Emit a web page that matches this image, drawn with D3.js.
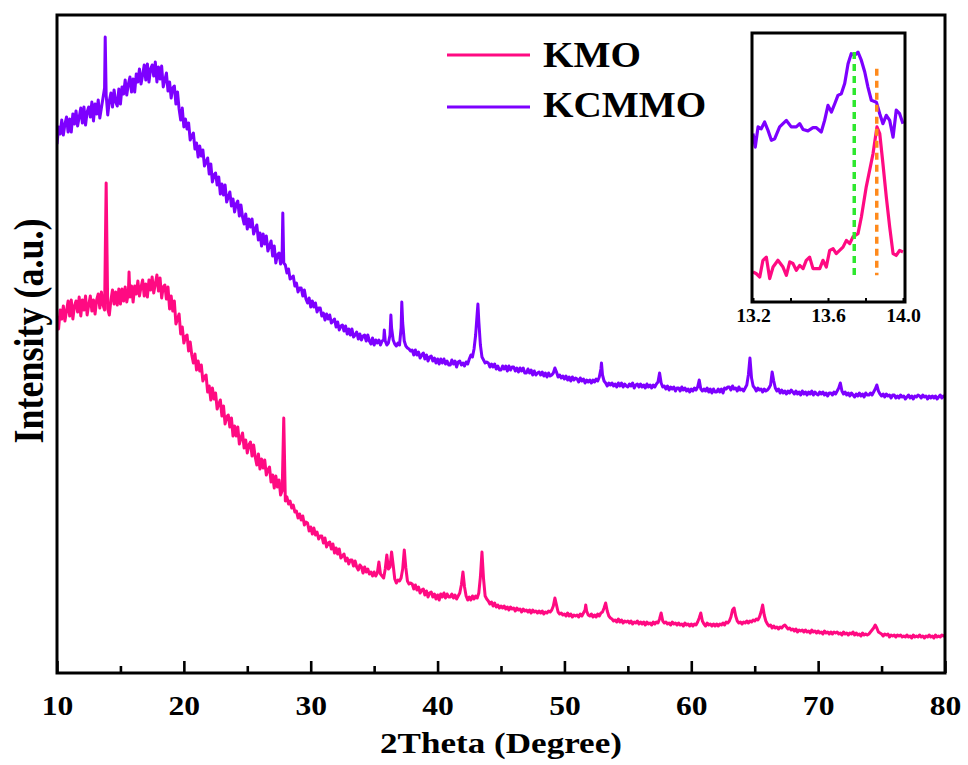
<!DOCTYPE html>
<html>
<head>
<meta charset="utf-8">
<script src="https://cdn.jsdelivr.net/npm/d3@7"></script>
<style>
  body { margin: 0; background: #fff; }
  svg { display: block; }
</style>
</head>
<body>
<svg id="chart" width="968" height="765"></svg>
<script>
// Diffractometer step-scan settings (degrees 2θ)
const scanStart = 10;
const scanStep = 0.125;

// KCMMO intensity (a.u.), eight steps per degree from 10° to 80°
const kcmmoScan = [
  529, 546, 539, 553, 538, 549, 556, 541,   // 10
  554, 541, 559, 549, 562, 547, 556, 565,   // 11
  550, 566, 548, 561, 566, 556, 571, 552,   // 12
  569, 559, 573, 555, 565, 575, 585, 578,   // 13
  558, 572, 580, 566, 583, 571, 567, 584,   // 14
  569, 586, 579, 593, 578, 589, 596, 581,   // 15
  594, 581, 599, 591, 604, 589, 598, 608,   // 16
  593, 609, 591, 604, 608, 597, 611, 591,   // 17
  606, 594, 607, 586, 593, 600, 582, 591,   // 18
  575, 585, 587, 569, 581, 564, 553, 565,   // 19
  546, 554, 544, 550, 533, 537, 540, 524,   // 20
  530, 516, 527, 517, 523, 507, 511, 515,   // 21
  499, 509, 491, 498, 500, 488, 496, 479,   // 22
  489, 478, 488, 471, 476, 481, 467, 474,   // 23
  461, 469, 472, 457, 468, 456, 449, 459,   // 24
  444, 454, 446, 454, 439, 444, 448, 433,   // 25
  440, 427, 439, 429, 437, 422, 427, 432,   // 26
  417, 427, 410, 418, 420, 409, 422, 410,   // 27
  408, 400, 404, 394, 395, 397, 387, 390,   // 28
  381, 385, 385, 377, 383, 374, 370, 375,   // 29
  366, 372, 366, 370, 361, 365, 365, 357,   // 30
  360, 353, 359, 354, 358, 350, 352, 354,   // 31
  346, 351, 343, 347, 348, 342, 347, 339,   // 32
  344, 338, 344, 336, 338, 341, 334, 339,   // 33
  333, 337, 338, 332, 338, 332, 329, 335,   // 34
  328, 333, 330, 333, 328, 332, 333, 332,   // 35
  328, 330, 338, 345, 333, 329, 327, 330,   // 36
  328, 345, 350, 332, 327, 325, 324, 322,   // 37
  323, 318, 323, 318, 321, 315, 318, 320,   // 38
  314, 318, 312, 316, 317, 312, 315, 310,   // 39
  314, 309, 314, 310, 314, 309, 312, 308,   // 40
  308, 313, 309, 312, 306, 311, 312, 308,   // 41
  310, 307, 311, 309, 314, 318, 316, 324,   // 42
  338, 360, 352, 328, 316, 313, 310, 311,   // 43
  310, 306, 309, 306, 309, 304, 307, 303,   // 44
  303, 307, 304, 307, 302, 307, 303, 306,   // 45
  306, 302, 305, 301, 305, 302, 305, 300,   // 46
  300, 304, 300, 303, 298, 302, 298, 300,   // 47
  301, 298, 301, 297, 300, 296, 300, 297,   // 48
  298, 300, 305, 301, 296, 298, 295, 297,   // 49
  294, 297, 293, 296, 292, 296, 293, 295,   // 50
  294, 291, 295, 292, 294, 290, 293, 291,   // 51
  293, 290, 293, 291, 294, 292, 296, 304,   // 52
  298, 292, 290, 287, 290, 288, 290, 287,   // 53
  289, 286, 290, 287, 290, 286, 289, 287,   // 54
  286, 289, 287, 290, 285, 288, 289, 286,   // 55
  289, 286, 288, 285, 289, 286, 288, 285,   // 56
  288, 286, 289, 291, 300, 290, 286, 287,   // 57
  284, 287, 283, 286, 284, 286, 282, 285,   // 58
  285, 282, 286, 283, 285, 282, 284, 281,   // 59
  284, 282, 285, 283, 286, 293, 284, 282,   // 60
  284, 282, 285, 281, 284, 280, 284, 281,   // 61
  281, 284, 281, 284, 280, 285, 284, 286,   // 62
  286, 283, 287, 284, 285, 282, 286, 283,   // 63
  284, 282, 285, 288, 298, 315, 295, 287,   // 64
  285, 282, 285, 283, 284, 281, 284, 282,   // 65
  283, 285, 288, 301, 292, 285, 282, 284,   // 66
  280, 283, 280, 282, 279, 282, 280, 283,   // 67
  281, 279, 282, 279, 281, 278, 282, 279,   // 68
  281, 278, 281, 279, 282, 278, 281, 279,   // 69
  278, 281, 279, 281, 278, 280, 277, 280,   // 70
  280, 278, 281, 279, 282, 285, 290, 282,   // 71
  279, 281, 278, 280, 277, 280, 278, 276,   // 72
  279, 277, 280, 277, 279, 276, 280, 278,   // 73
  278, 280, 278, 281, 284, 288, 282, 279,   // 74
  277, 279, 276, 279, 277, 278, 275, 278,   // 75
  278, 275, 277, 275, 278, 276, 277, 274,   // 76
  276, 278, 275, 277, 274, 277, 276, 278,   // 77
  277, 275, 278, 276, 277, 274, 277, 275,   // 78
  277, 275, 277, 274, 276, 278, 275, 277,   // 79
  276                                       // 80
];
// KCMMO reflections recorded between scan steps [2θ, intensity]
const kcmmoPeaks = [
  [13.80, 636], [27.80, 460], [35.80, 343], [36.32, 358], [37.18, 371], [43.18, 369], [52.92, 310]
];

// KMO intensity (a.u.), eight steps per degree from 10° to 80°
const kmoScan = [
  357, 344, 363, 354, 367, 352, 362, 372,   // 10
  357, 373, 354, 367, 372, 361, 376, 357,   // 11
  373, 363, 377, 358, 368, 377, 362, 373,   // 12
  359, 373, 379, 365, 381, 368, 363, 490,   // 13
  364, 358, 373, 383, 369, 381, 368, 384,   // 14
  369, 384, 372, 386, 371, 380, 376, 387,   // 15
  371, 387, 379, 392, 377, 386, 393, 377,   // 16
  389, 376, 393, 383, 396, 380, 389, 398,   // 17
  382, 395, 375, 386, 388, 374, 386, 364,   // 18
  377, 362, 372, 349, 354, 359, 339, 346,   // 19
  330, 336, 338, 322, 331, 318, 310, 319,   // 20
  303, 312, 302, 308, 292, 296, 298, 281,   // 21
  287, 273, 285, 274, 280, 264, 269, 273,   // 22
  257, 267, 249, 256, 258, 246, 255, 237,   // 23
  247, 237, 246, 229, 235, 240, 225, 233,   // 24
  220, 228, 231, 217, 228, 216, 208, 219,   // 25
  204, 214, 205, 213, 198, 203, 206, 191,   // 26
  198, 185, 197, 186, 193, 178, 182, 255,   // 27
  172, 176, 169, 172, 165, 168, 161, 162,   // 28
  155, 159, 153, 157, 148, 151, 150, 142,   // 29
  146, 139, 145, 138, 141, 134, 137, 137,   // 30
  130, 135, 126, 130, 131, 124, 129, 120,   // 31
  125, 119, 124, 115, 117, 119, 112, 115,   // 32
  109, 113, 113, 107, 112, 106, 103, 108,   // 33
  106, 100, 106, 101, 104,  99, 101,  97,   // 34
  101,  97, 100, 111,  99,  97,  95, 104,   // 35
  118, 104, 106, 121, 108,  94,  90,  93,   // 36
   92,  95, 104, 123, 105,  92,  89,  90,   // 37
   89,  84,  88,  83,  86,  80,  83,  84,   // 38
   78,  82,  76,  80,  81,  76,  79,  74,   // 39
   78,  73,  79,  76,  80,  75,  79,  76,   // 40
   76,  79,  75,  78,  74,  77,  80,  88,   // 41
  101,  86,  77,  73,  76,  73,  77,  74,   // 42
   77,  75,  80,  96, 121,  94,  77,  74,   // 43
   72,  69,  71,  67,  70,  66,  68,  65,   // 44
   67,  65,  67,  64,  66,  63,  66,  64,   // 45
   65,  62,  65,  63,  64,  61,  64,  62,   // 46
   63,  61,  63,  60,  63,  61,  62,  60,   // 47
   62,  60,  62,  59,  61,  60,  62,  61,   // 48
   63,  67,  75,  68,  61,  59,  60,  58,   // 49
   59,  57,  60,  57,  59,  56,  58,  57,   // 50
   58,  56,  59,  57,  60,  63,  62,  58,   // 51
   57,  59,  56,  58,  56,  59,  57,  60,   // 52
   61,  65,  70,  62,  57,  55,  54,  52,   // 53
   53,  51,  54,  51,  53,  50,  52,  51,   // 54
   52,  50,  52,  49,  51,  50,  52,  49,   // 55
   51,  49,  51,  48,  51,  49,  50,  48,   // 56
   51,  49,  51,  50,  54,  60,  52,  50,   // 57
   51,  49,  50,  48,  51,  49,  50,  48,   // 58
   50,  48,  49,  47,  50,  48,  49,  47,   // 59
   49,  47,  49,  48,  51,  55,  60,  52,   // 60
   49,  47,  50,  48,  49,  47,  49,  47,   // 61
   49,  47,  49,  48,  50,  48,  51,  50,   // 62
   52,  56,  63,  65,  57,  52,  50,  51,   // 63
   49,  51,  50,  52,  50,  52,  51,  53,   // 64
   52,  54,  53,  56,  61,  68,  58,  52,   // 65
   49,  47,  48,  45,  47,  45,  46,  44,   // 66
   46,  45,  47,  48,  46,  44,  45,  43,   // 67
   44,  42,  44,  41,  43,  42,  43,  41,   // 68
   43,  41,  42,  40,  43,  41,  42,  40,   // 69
   42,  40,  41,  39,  42,  40,  41,  39,   // 70
   41,  39,  41,  40,  41,  39,  40,  38,   // 71
   41,  39,  40,  38,  40,  39,  41,  38,   // 72
   40,  38,  39,  37,  40,  38,  39,  38,   // 73
   39,  41,  43,  45,  48,  45,  41,  40,   // 74
   39,  37,  39,  38,  39,  36,  38,  37,   // 75
   38,  36,  38,  37,  38,  36,  37,  36,   // 76
   38,  36,  37,  35,  38,  36,  37,  36,   // 77
   38,  36,  37,  35,  37,  36,  38,  36,   // 78
   37,  35,  38,  36,  37,  36,  38,  37,   // 79
   38                                       // 80
];
// KMO reflections recorded between scan steps [2θ, intensity]
const kmoPeaks = [[15.68, 401], [51.68, 68]];

// Fine scan around the first reflection, 13.2°–14.0° [2θ, intensity]
const insetKcmmo = [
  [13.200, 62.6], [13.212, 57.6], [13.227, 65.1], [13.244, 64.4], [13.262, 66.9], [13.280, 63.8],
  [13.298, 60.1], [13.316, 60.7], [13.342, 65.1], [13.378, 67.5], [13.404, 65.1], [13.431, 65.1],
  [13.449, 66.3], [13.467, 64.1], [13.493, 63.6], [13.520, 64.8], [13.538, 64.8], [13.564, 63.2],
  [13.582, 67.5], [13.600, 73.1], [13.618, 70.6], [13.636, 73.7], [13.653, 76.8], [13.671, 77.4],
  [13.689, 81.2], [13.707, 88.6], [13.724, 92.3], [13.742, 91.7], [13.760, 92.9], [13.778, 89.8],
  [13.796, 85.5], [13.813, 79.9], [13.831, 75.0], [13.858, 74.3], [13.876, 70.0], [13.893, 66.3],
  [13.911, 69.4], [13.929, 67.5], [13.947, 61.3], [13.964, 71.3], [13.982, 70.0], [14.000, 66.3]
];
const insetKmo = [
  [13.200, 11.2], [13.218, 10.5], [13.236, 9.3], [13.253, 15.5], [13.271, 16.7], [13.289, 8.7],
  [13.307, 13.0], [13.333, 15.5], [13.360, 13.0], [13.378, 9.9], [13.396, 14.9], [13.413, 14.3],
  [13.431, 11.8], [13.449, 13.6], [13.467, 12.4], [13.484, 15.5], [13.502, 16.7], [13.520, 12.4],
  [13.556, 12.4], [13.573, 15.5], [13.591, 13.0], [13.609, 19.2], [13.627, 19.8], [13.644, 18.0],
  [13.662, 19.2], [13.680, 20.4], [13.698, 22.9], [13.716, 21.7], [13.733, 24.2], [13.760, 25.4],
  [13.778, 31.6], [13.804, 42.8], [13.840, 55.1], [13.861, 65.1], [13.876, 62.6], [13.893, 51.4],
  [13.911, 39.0], [13.929, 27.9], [13.947, 18.0], [13.964, 17.3], [13.982, 19.2], [14.000, 18.6]
];
// Peak-position guides in the fine scan: 2θ and vertical extent
const guidePositions = [13.74, 13.86];
const guideTops = [92.9, 86.7];
const guideBottom = 9.9;

// Axis ticks
const xTicks = [10, 20, 30, 40, 50, 60, 70, 80];
const xMinorTicks = [15, 25, 35, 45, 55, 65, 75];
const insetTicks = [13.2, 13.4, 13.6, 13.8, 14.0];
const insetTickLabels = ["13.2", "", "13.6", "", "14.0"];

const seriesNames = ["KMO", "KCMMO"];

// ---- styling ----
const colors = { KMO: "#ff0a82", KCMMO: "#7d00ff" };
const guideColors = ["#2ee82e", "#ff8a1c"];
const serif = "'Liberation Serif', 'Times New Roman', serif";
const stretch = 1.17;   // wide lettering

const frame = { left: 57, right: 945, top: 15, bottom: 673 };
const insetBox = { left: 752, right: 905, top: 33, bottom: 302 };

const svg = d3.select("#chart");

const x = d3.scaleLinear().domain([10, 80]).range([frame.left, frame.right]);
const y = d3.scaleLinear().domain([0, 658]).range([frame.bottom, frame.top]);

// combine step data with the reflections recorded between steps
function buildSeries(scan, peaks) {
  return scan.map((v, i) => [scanStart + i * scanStep, v])
    .concat(peaks)
    .sort((a, b) => a[0] - b[0]);
}
const kmoData = buildSeries(kmoScan, kmoPeaks);
const kcmmoData = buildSeries(kcmmoScan, kcmmoPeaks);

const defs = svg.append("defs");
defs.append("clipPath").attr("id", "plotClip").append("rect")
  .attr("x", frame.left).attr("y", frame.top)
  .attr("width", frame.right - frame.left).attr("height", frame.bottom - frame.top);
defs.append("clipPath").attr("id", "insetClip").append("rect")
  .attr("x", insetBox.left).attr("y", insetBox.top)
  .attr("width", insetBox.right - insetBox.left).attr("height", insetBox.bottom - insetBox.top);

// ---- main patterns ----
const line = d3.line().x(d => x(d[0])).y(d => y(d[1]));
const plot = svg.append("g").attr("clip-path", "url(#plotClip)");
[["KMO", kmoData], ["KCMMO", kcmmoData]].forEach(([name, data]) => {
  plot.append("path")
    .datum(data)
    .attr("d", line)
    .attr("fill", "none")
    .attr("stroke", colors[name])
    .attr("stroke-width", 3)
    .attr("stroke-linejoin", "round");
});

// ---- bottom axis ----
const axisG = svg.append("g").attr("transform", `translate(0,${frame.bottom})`);
axisG.call(d3.axisBottom(x).tickValues(xMinorTicks).tickSize(-7).tickSizeOuter(0).tickFormat(""))
  .call(g => g.select(".domain").remove());
const majorG = svg.append("g").attr("transform", `translate(0,${frame.bottom})`);
majorG.call(d3.axisBottom(x).tickValues(xTicks).tickSize(-12).tickSizeOuter(0).tickFormat(d3.format("d")))
  .call(g => g.select(".domain").remove());
svg.selectAll(".tick line").attr("stroke", "#000").attr("stroke-width", 2.6);
majorG.selectAll(".tick text")
  .attr("y", 42).attr("dy", null)
  .attr("transform", `scale(${stretch},1)`)
  .attr("fill", "#000")
  .style("font-family", serif).style("font-weight", "bold").style("font-size", "27px");

// ---- frame ----
svg.append("rect")
  .attr("x", frame.left).attr("y", frame.top)
  .attr("width", frame.right - frame.left).attr("height", frame.bottom - frame.top)
  .attr("fill", "none").attr("stroke", "#000").attr("stroke-width", 3);

// ---- axis titles ----
svg.append("text")
  .attr("transform", `translate(501,753) scale(${stretch},1)`)
  .attr("text-anchor", "middle")
  .style("font-family", serif).style("font-weight", "bold").style("font-size", "30px")
  .text("2Theta (Degree)");
svg.append("text")
  .attr("transform", `translate(43,331) scale(${stretch},1) rotate(-90)`)
  .attr("text-anchor", "middle")
  .style("font-family", serif).style("font-weight", "bold").style("font-size", "36px")
  .text("Intensity (a.u.)");

// ---- legend ----
const legend = svg.append("g");
const legendRows = [55, 107];
const legendBaselines = [67, 117];
seriesNames.forEach((name, i) => {
  legend.append("line")
    .attr("x1", 447).attr("x2", 530)
    .attr("y1", legendRows[i]).attr("y2", legendRows[i])
    .attr("stroke", colors[name]).attr("stroke-width", 3);
  legend.append("text")
    .attr("transform", `translate(543,${legendBaselines[i]}) scale(1.12,1)`)
    .style("font-family", serif).style("font-weight", "bold").style("font-size", "35px")
    .text(name);
});

// ---- inset: fine scan of the first reflection ----
const xi = d3.scaleLinear().domain([13.2, 14.0]).range([insetBox.left + 1, insetBox.right - 2]);
const yi = d3.scaleLinear().domain([0, 100]).range([insetBox.bottom, insetBox.top]);
const insetLine = d3.line().x(d => xi(d[0])).y(d => yi(d[1]));
const inset = svg.append("g");
inset.append("rect")
  .attr("x", insetBox.left).attr("y", insetBox.top)
  .attr("width", insetBox.right - insetBox.left).attr("height", insetBox.bottom - insetBox.top)
  .attr("fill", "#fff");
const insetPlot = inset.append("g").attr("clip-path", "url(#insetClip)");
[["KMO", insetKmo], ["KCMMO", insetKcmmo]].forEach(([name, data]) => {
  insetPlot.append("path")
    .datum(data)
    .attr("d", insetLine)
    .attr("fill", "none")
    .attr("stroke", colors[name])
    .attr("stroke-width", 3.2)
    .attr("stroke-linejoin", "round");
});
guidePositions.forEach((pos, i) => {
  insetPlot.append("line")
    .attr("x1", xi(pos)).attr("x2", xi(pos))
    .attr("y1", yi(guideTops[i])).attr("y2", yi(guideBottom))
    .attr("stroke", guideColors[i]).attr("stroke-width", 3.5)
    .attr("stroke-dasharray", "7,5");
});
const insetAxis = inset.append("g").attr("transform", `translate(0,${insetBox.bottom})`);
insetAxis.call(d3.axisBottom(xi).tickValues(insetTicks).tickSize(-4).tickSizeOuter(0)
    .tickFormat((d, i) => insetTickLabels[i]))
  .call(g => g.select(".domain").remove());
insetAxis.selectAll(".tick line").attr("stroke", "#000").attr("stroke-width", 2);
insetAxis.selectAll(".tick text")
  .attr("y", 20).attr("dy", null)
  .attr("transform", "scale(1.1,1)")
  .attr("fill", "#000")
  .style("font-family", serif).style("font-weight", "bold").style("font-size", "18px");
inset.append("rect")
  .attr("x", insetBox.left).attr("y", insetBox.top)
  .attr("width", insetBox.right - insetBox.left).attr("height", insetBox.bottom - insetBox.top)
  .attr("fill", "none").attr("stroke", "#000").attr("stroke-width", 3);
</script>
</body>
</html>
